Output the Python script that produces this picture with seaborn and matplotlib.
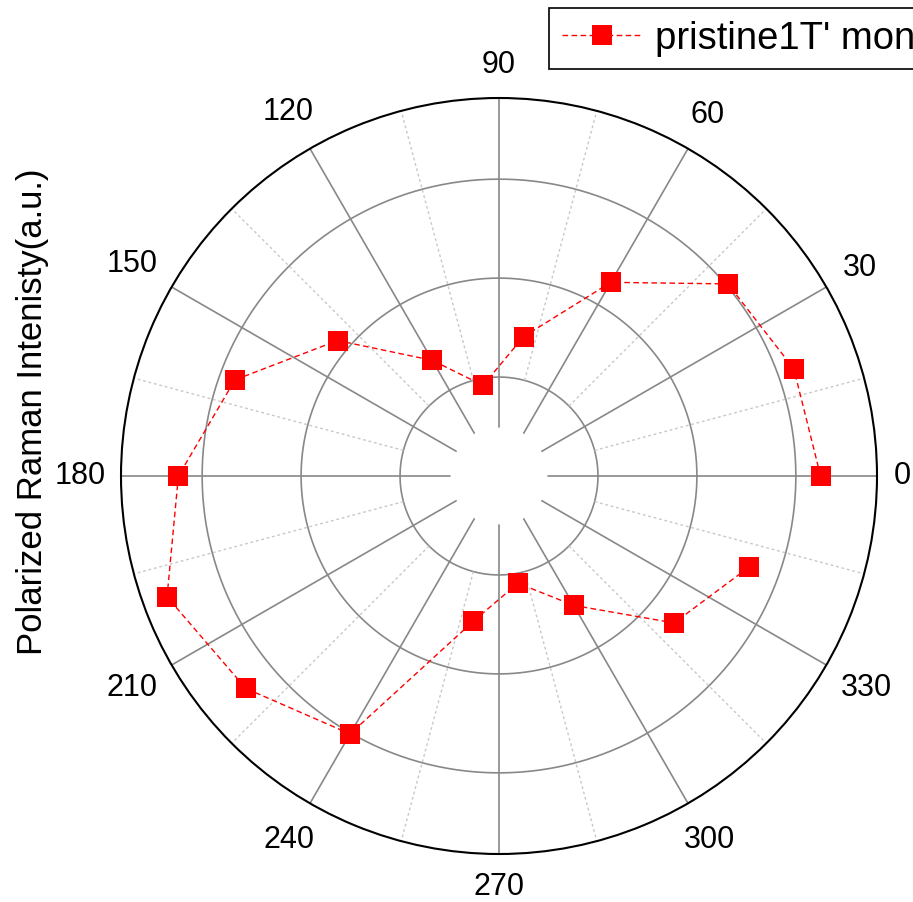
import numpy as np
import matplotlib.pyplot as plt
import seaborn as sns

# polarization angle (deg) and Raman intensity (a.u.)
angles_deg = [0, 20, 40, 60, 80, 100, 120, 140, 160, 180,
              200, 220, 240, 260, 280, 300, 320, 340]
intensity = [3.25, 3.17, 3.02, 2.26, 1.43, 0.93, 1.35, 2.13, 2.84, 3.24,
             3.57, 3.34, 3.01, 1.49, 1.10, 1.51, 2.31, 2.69]
series_label = "pristine1T' monolayer"
ylabel_text = "Polarized Raman Intenisty(a.u.)"

major_angles = list(range(0, 360, 30))
minor_angles = list(range(15, 360, 30))
ring_values = [1, 2, 3]
r_max = 3.82
px_per_unit = 99.0

sns.set_style("white")
plt.rcParams['font.family'] = ['Liberation Sans', 'DejaVu Sans']
plt.rcParams['text.color'] = 'black'

fig = plt.figure(figsize=(9.13, 9.02), dpi=100)
ax = fig.add_axes([121 / 913, 48 / 902, 756 / 913, 756 / 902], projection='polar')

ax.grid(False)
ax.set_ylim(0, r_max)
ax.set_yticks([])

# rings
t_full = np.linspace(0, 2 * np.pi, 400)
for rv in ring_values:
    ax.plot(t_full, np.full_like(t_full, rv), color='#888888', lw=1.2, zorder=1)

# major spokes (start off-centre) and minor dotted spokes
for a in major_angles:
    t = np.deg2rad(a)
    ax.plot([t, t], [0.5, r_max], color='#888888', lw=1.2, zorder=1)
for a in minor_angles:
    t = np.deg2rad(a)
    ax.plot([t, t], [1.0, r_max], color='#c8c8c8', lw=1.0, ls=(0, (2, 2)), zorder=1)

# data, closed loop
theta = np.deg2rad(angles_deg + [angles_deg[0]])
rad = intensity + [intensity[0]]
sns.lineplot(x=theta, y=rad, sort=False, ax=ax, color='red', lw=1.0,
             linestyle=(0, (4, 2.5)), marker='s', markersize=14.5,
             markeredgewidth=0, label=series_label, zorder=3)
ax.get_legend().remove()

ax.set_xticks(np.deg2rad(major_angles))
ax.set_xticklabels([])
ax.set_xticks(np.deg2rad(minor_angles), minor=True)
ax.tick_params(axis='x', which='major', direction='in', length=15, width=1.2, color='black')
ax.tick_params(axis='x', which='minor', direction='in', length=5, width=1.0, color='black')
ax.spines['polar'].set_color('black')
ax.spines['polar'].set_linewidth(1.5)
ax.set_ylabel('')

# angle labels, kept a fixed gap from the rim based on rough text size
for a in major_angles:
    t = np.deg2rad(a)
    w = 16 * len(str(a))
    h = 22
    off = 17 + 5 * abs(np.sin(t)) + w / 2 * abs(np.cos(t)) + h / 2 * abs(np.sin(t))
    ax.text(t, r_max + off / px_per_unit, str(a), fontsize=22, color='black',
            ha='center', va='center', clip_on=False)

fig.text(33 / 913, 1 - 412 / 902, ylabel_text, rotation=90, fontsize=25,
         ha='center', va='center', color='black')

handles, labels = ax.get_legend_handles_labels()
leg = fig.legend(handles, labels, loc='upper left', bbox_to_anchor=(549 / 913, 1 - 8 / 902),
                 fontsize=27.5, frameon=True, fancybox=False, edgecolor='black',
                 framealpha=1, handlelength=2.1, handletextpad=0.35, borderpad=0.33,
                 borderaxespad=0)
leg.get_frame().set_linewidth(1.2)

fig.savefig('out.png', dpi=100)
